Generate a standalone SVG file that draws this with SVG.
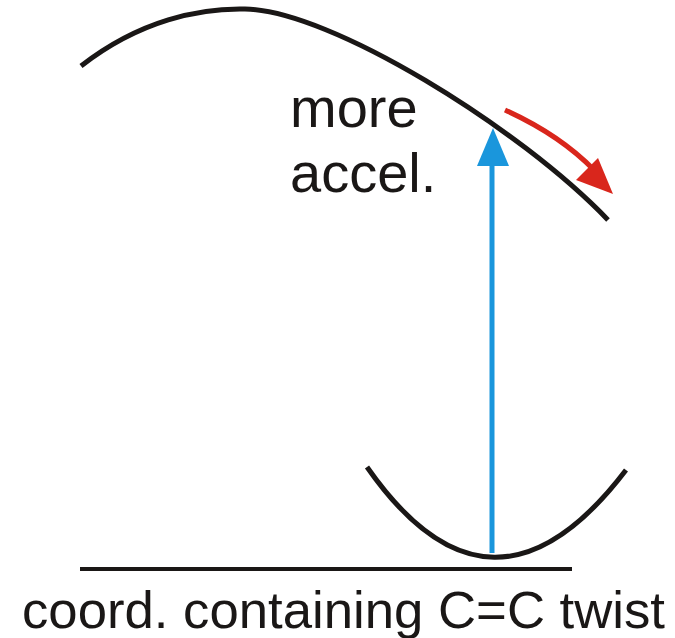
<svg xmlns="http://www.w3.org/2000/svg" width="675" height="638" viewBox="0 0 675 638">
<style>
.curve{fill:none;stroke:#1a1716;stroke-width:5}
.lbl{font-family:"Liberation Sans",Arial,sans-serif;fill:#1a1716}
</style>
<rect width="675" height="638" fill="#fff"/>
<g id="upper-surface"><path class="curve" d="M81,66 C140,20 200,8 245,9 C330,10 520,128 608,220"/></g>
<g id="lower-surface"><path class="curve" d="M367,467 Q492,646 626,470"/></g>
<g id="axis"><line x1="80" y1="569" x2="572" y2="569" stroke="#1a1716" stroke-width="4"/></g>
<g id="connectors">
<line x1="492" y1="553" x2="492" y2="160" stroke="#1a96dc" stroke-width="5"/>
<polygon points="493,128 477,166 509,166" fill="#1a96dc"/>
<path d="M505,110 Q560,135 594,170" fill="none" stroke="#d9261c" stroke-width="5"/>
<polygon points="613,194 576,180 598,158" fill="#d9261c"/>
</g>
<g id="label-accel">
<text class="lbl" x="290" y="127" font-size="56">more</text>
<text class="lbl" x="290" y="192" font-size="56">accel.</text>
</g>
<g id="label-axis"><text class="lbl" x="22" y="628" font-size="52" textLength="643" lengthAdjust="spacingAndGlyphs">coord. containing C=C twist</text></g>
</svg>
